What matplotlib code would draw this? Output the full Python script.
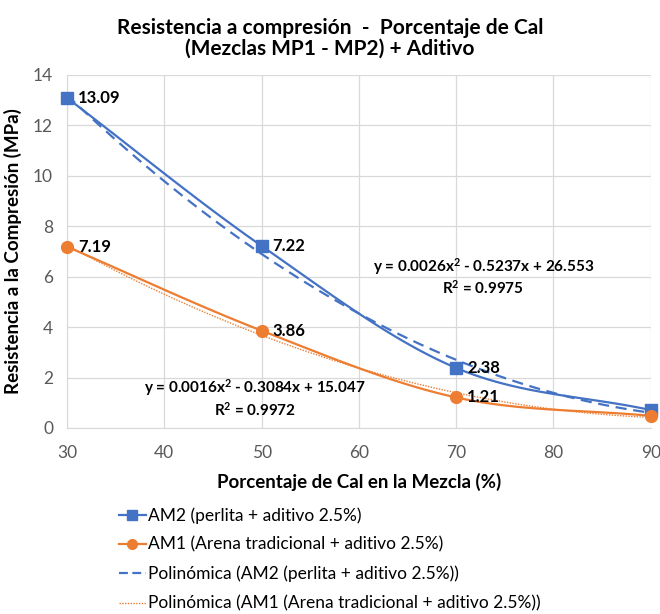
import numpy as np
import matplotlib
matplotlib.use("Agg")
import matplotlib.pyplot as plt
from matplotlib.lines import Line2D

x = [30, 50, 70, 90]
am2 = [13.09, 7.22, 2.38, 0.71]
am1 = [7.19, 3.86, 1.21, 0.48]
label_am2 = ["13.09", "7.22", "2.38", ""]
label_am1 = ["7.19", "3.86", "1.21", ""]
eq_am2 = ["y = 0.0026x$^2$ - 0.5237x + 26.553", "R$^2$ = 0.9975"]
eq_am1 = ["y = 0.0016x$^2$ - 0.3084x + 15.047", "R$^2$ = 0.9972"]
xticks = [30, 40, 50, 60, 70, 80, 90]
yticks = [0, 2, 4, 6, 8, 10, 12, 14]
legend_labels = ["AM2 (perlita + aditivo 2.5%)",
                 "AM1 (Arena tradicional + aditivo 2.5%)",
                 "Polinómica (AM2 (perlita + aditivo 2.5%))",
                 "Polinómica (AM1 (Arena tradicional + aditivo 2.5%))"]

BLUE = "#4472C4"
ORANGE = "#ED7D31"
plt.rcParams['font.family'] = ['Lato', 'DejaVu Sans']
plt.rcParams['mathtext.fontset'] = 'custom'
plt.rcParams['mathtext.rm'] = 'Lato:bold'
plt.rcParams['mathtext.it'] = 'Lato:bold'
plt.rcParams['mathtext.bf'] = 'Lato:bold'


def smooth(xs, ys, n=40):
    xs = np.asarray(xs, float); ys = np.asarray(ys, float)
    P = np.column_stack([xs, ys])
    P = np.vstack([2 * P[0] - P[1], P, 2 * P[-1] - P[-2]])
    out = []
    for i in range(1, len(P) - 2):
        p0, p1, p2, p3 = P[i - 1], P[i], P[i + 1], P[i + 2]
        t = np.linspace(0, 1, n)[:, None]
        c = 0.5 * ((2 * p1) + (-p0 + p2) * t + (2 * p0 - 5 * p1 + 4 * p2 - p3) * t ** 2
                   + (-p0 + 3 * p1 - 3 * p2 + p3) * t ** 3)
        out.append(c)
    c = np.vstack(out)
    return c[:, 0], c[:, 1]


fig = plt.figure(figsize=(6.6, 6.14), dpi=100)
ax = fig.add_axes([0.1015, 0.303, 0.8845, 0.575])

xs2, ys2 = smooth(x, am2)
xs1, ys1 = smooth(x, am1)
ax.plot(xs2, ys2, color=BLUE, lw=1.6, zorder=3)
ax.plot(xs1, ys1, color=ORANGE, lw=1.6, zorder=3)
ax.plot(x, am2, ls='none', marker='s', ms=9, color=BLUE, zorder=5, clip_on=False)
ax.plot(x, am1, ls='none', marker='o', ms=8.5, color=ORANGE, zorder=5, clip_on=False)

xf = np.linspace(30, 90, 200)
p2 = np.polyfit(x, am2, 2)
p1 = np.polyfit(x, am1, 2)
ax.plot(xf, np.polyval(p2, xf), color=BLUE, lw=1.6, ls=(0, (5, 3)), zorder=4)
ax.plot(xf, np.polyval(p1, xf), color=ORANGE, lw=1.0, ls=(0, (1, 1)), zorder=4)

for xi, yi, lab in zip(x, am2, label_am2):
    if lab:
        ax.annotate(lab, (xi, yi), xytext=(8, 0), textcoords='offset points',
                    va='center', ha='left', fontsize=12, fontweight='bold', zorder=6)
for xi, yi, lab in zip(x, am1, label_am1):
    if lab:
        ax.annotate(lab, (xi, yi), xytext=(8, 0), textcoords='offset points',
                    va='center', ha='left', fontsize=12, fontweight='bold', zorder=6)

ax.text(72.8, 6.4, eq_am2[0], ha='center', va='center', fontsize=11, fontweight='bold')
ax.text(72.8, 5.55, eq_am2[1], ha='center', va='center', fontsize=11, fontweight='bold')
ax.text(49.3, 1.62, eq_am1[0], ha='center', va='center', fontsize=11, fontweight='bold')
ax.text(49.3, 0.72, eq_am1[1], ha='center', va='center', fontsize=11, fontweight='bold')

ax.set_xlim(30, 90)
ax.set_ylim(0, 14)
ax.set_xticks(xticks)
ax.set_yticks(yticks)
ax.grid(True, color='#D9D9D9', lw=0.9)
ax.set_axisbelow(True)
for s in ['top', 'right']:
    ax.spines[s].set_visible(False)
for s in ['left', 'bottom']:
    ax.spines[s].set_color('#D9D9D9')
ax.tick_params(axis='x', length=0, labelsize=12.5, labelcolor='#595959', pad=12)
ax.tick_params(axis='y', length=0, labelsize=12.5, labelcolor='#595959', pad=10)

ax.set_xlabel("Porcentaje de Cal en la Mezcla (%)", fontsize=13.5, fontweight='bold', labelpad=9)
ax.set_ylabel("Resistencia a la Compresión (MPa)", fontsize=13.5, fontweight='bold', labelpad=8)

fig.text(0.5, 0.955, "Resistencia a compresión  -  Porcentaje de Cal", ha='center', va='center',
         fontsize=15, fontweight='bold')
fig.text(0.5, 0.921, "(Mezclas MP1 - MP2) + Aditivo", ha='center', va='center',
         fontsize=15, fontweight='bold')

handles = [
    Line2D([], [], color=BLUE, lw=1.6, marker='s', ms=7.5),
    Line2D([], [], color=ORANGE, lw=1.6, marker='o', ms=7),
    Line2D([], [], color=BLUE, lw=1.6, ls=(0, (4, 2))),
    Line2D([], [], color=ORANGE, lw=1.0, ls=(0, (1, 1))),
]
fig.legend(handles, legend_labels, loc='upper left', bbox_to_anchor=(0.18, 0.174),
           frameon=False, fontsize=12.5, handlelength=1.55, handletextpad=0.15,
           labelspacing=0.75, borderpad=0, borderaxespad=0)

fig.savefig("out.png", dpi=100)
